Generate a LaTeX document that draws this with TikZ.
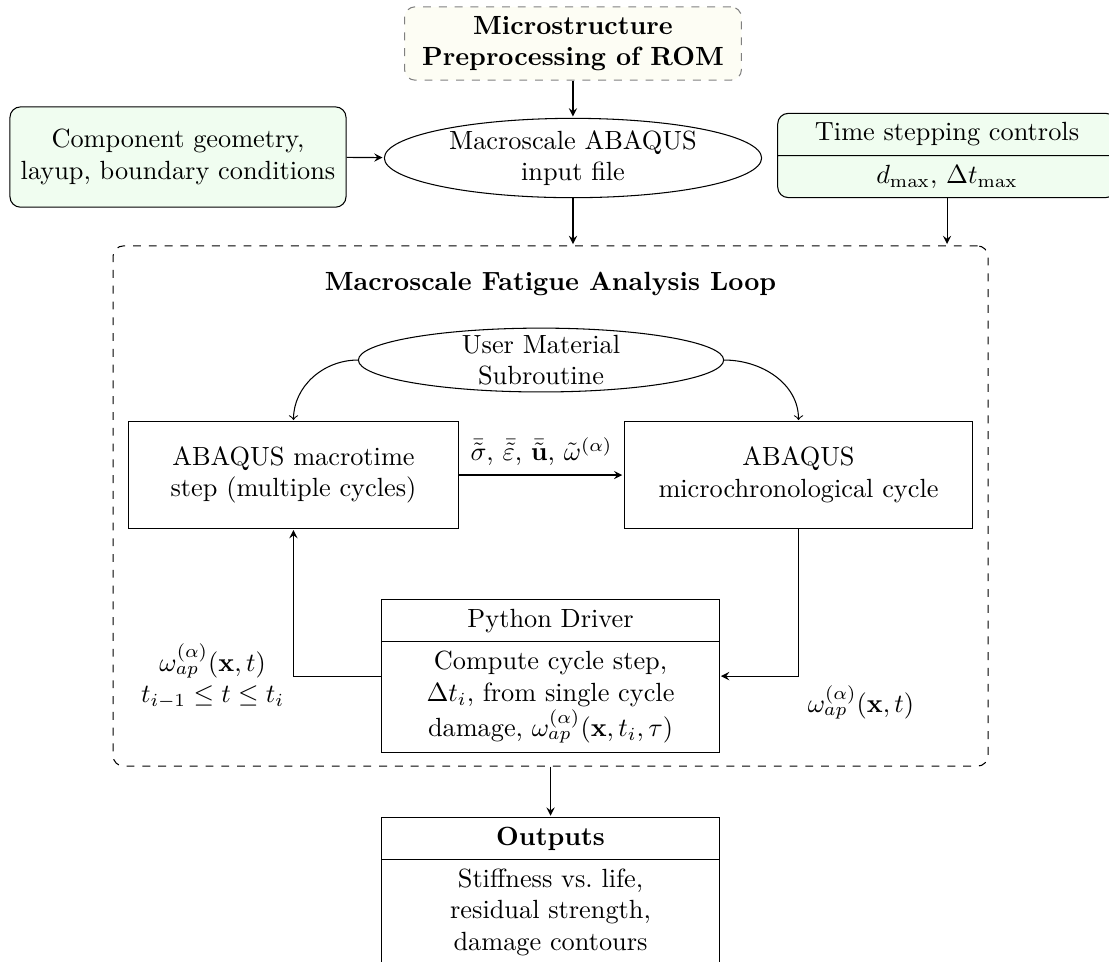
\documentclass[tikz,border=0pt]{standalone}
\usepackage{tikz}
\usepackage{xcolor}
\usepackage{amsmath,amssymb}
\usetikzlibrary{shapes,shapes.geometric,positioning}

\definecolor{inputgreen}{RGB}{240,253,240}
\definecolor{romfill}{RGB}{253,253,244}

\begin{document}
\begin{tikzpicture}[shorten >=0.5pt,auto,
    greenbox/.style={draw,rounded corners=4pt,fill=inputgreen,align=center},
    oval/.style={draw,ellipse,align=center},
    plainbox/.style={draw,rectangle,align=center,minimum height=1.42cm},
    splitbox/.style={draw,rectangle split,rectangle split parts=2,align=center}]
    \useasboundingbox (0,0) rectangle (14.816,-12.852);

       % inputs
       \node (pre_rom) [draw=gray,dashed,rounded corners=4pt,fill=romfill,font=\bfseries,align=center,minimum width=4.5cm,minimum height=0.98cm] at (7.655,-0.581) {Microstructure\\Preprocessing of ROM};
       \node (inp_file) [oval,inner sep=0pt,minimum width=5.04cm,minimum height=1.06cm] at (7.655,-2.111) {Macroscale ABAQUS\\input file};
       \node (geo_in) [greenbox,minimum width=4.49cm,minimum height=1.34cm] at (2.378,-2.098) {Component geometry,\\layup, boundary conditions};
       \node (ts_ctrl) [splitbox,rounded corners=4pt,fill=inputgreen,text width=4.29cm] at (12.652,-2.077) {Time stepping controls \nodepart{two} $d_{\max}$, $\Delta t_{\max}$};

       % fatigue loop
       \node (loop_box) [draw,dashed,rounded corners=4pt,minimum width=11.69cm,minimum height=6.95cm] at (7.355,-6.76) {};
       \node (loop_title) [font=\bfseries,below=2.3mm of loop_box.north] {Macroscale Fatigue Analysis Loop};
       \node (umat) [oval,inner xsep=0pt,inner ysep=-1pt,minimum width=4.88cm] at (7.228,-4.81) {User Material\\Subroutine};
       \node (macro_step) [plainbox,minimum width=4.42cm] at (3.921,-6.346) {ABAQUS macrotime\\step (multiple cycles)};
       \node (micro_cyc) [plainbox,minimum width=4.66cm] at (10.668,-6.346) {ABAQUS\\microchronological cycle};
       \node (py_drv) [splitbox,text width=4.27cm,anchor=north] at (7.355,-8.003) {Python Driver \nodepart{two} Compute cycle step,\\$\Delta t_i$, from single cycle\\damage, $\omega_{ap}^{(\alpha)}(\mathbf{x},t_i,\tau)$};

       % outputs
       \node (out_res) [splitbox,text width=4.27cm,anchor=north] at (7.355,-10.915) {\textbf{Outputs} \nodepart{two} Stiffness vs.\ life,\\residual strength,\\damage contours};

        \draw[-stealth] (pre_rom) -- (inp_file);
        \draw[-stealth] (geo_in) -- (inp_file);
        \draw[-stealth] (inp_file.south) -- (inp_file.south |- loop_box.north);
        \draw[-stealth] (ts_ctrl.south) -- (ts_ctrl.south |- loop_box.north);
        \draw[->] (umat.west) to[out=180,in=90] (macro_step.north);
        \draw[->] (umat.east) to[out=0,in=90] (micro_cyc.north);
        \draw[-stealth] (macro_step) -- node {$\bar{\tilde{\sigma}}$, $\bar{\tilde{\varepsilon}}$, $\bar{\tilde{\mathbf{u}}}$, $\tilde{\omega}^{(\alpha)}$} (micro_cyc);
        \draw[-stealth] (micro_cyc.south) |- node[below right,pos=0.5] {$\omega_{ap}^{(\alpha)}(\mathbf{x},t)$} (py_drv.east);
        \draw[-stealth] (py_drv.west) -| node[left,pos=0.5,align=center] {$\omega_{ap}^{(\alpha)}(\mathbf{x},t)$\\$t_{i-1}\le t\le t_i$} (macro_step.south);
        \draw[-stealth] (loop_box.south) -- (out_res.north);
    \end{tikzpicture}
\end{document}
